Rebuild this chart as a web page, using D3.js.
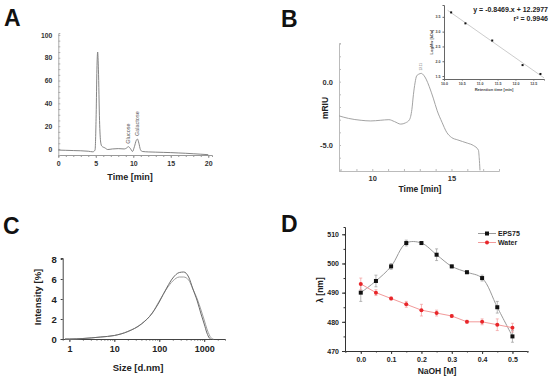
<!DOCTYPE html>
<html>
<head>
<meta charset="utf-8">
<script src="https://cdn.jsdelivr.net/npm/d3@7"></script>
<style>
body{margin:0;background:#fff}
text{font-family:"Liberation Sans",Arial,sans-serif}
</style>
</head>
<body>
<div id="chart"></div>
<script>
// PANEL A - HPLC trace
var hplcTime = [0,1,2,3,4,4.6,4.9,5.05,5.15,5.25,5.35,5.5,5.65,5.8,6.2,6.6,7.2,8,8.8,9.1,9.35,9.6,9.9,10.15,10.4,10.55,10.75,10.95,11.2,12,13,14,15,16,17,18,19,20]
var hplcSignal = [-1,-1.2,-1.4,-1.6,-2,-2.5,-1,30,70,85,70,25,6,2.5,1,-0.5,0,0.3,0,0.8,2,0.5,-2.2,2,7.5,8.7,5,-0.5,-2.2,-2.6,-2.8,-3,-3.2,-3.5,-3.8,-4.2,-4.6,-5]
var hplcTicksX = [0,5,10,15,20]
var hplcTicksY = [0,20,40,60,80,100]
var peakNames = ["Glucose","Galactose"]
var peakTimes = [9.35,10.55]
var peakHeights = [2,8.7]

// PANEL B - GPC trace + calibration inset
var gpcTime = [7.9,8.5,9.3,9.9,10.5,11.05,11.4,11.8,12.1,12.35,12.5,12.6,12.7,12.8,12.95,13.1,13.25,13.4,13.6,13.85,14.1,14.4,14.7,15.0,15.4,16.0,16.4,16.7,16.75,16.8]
var gpcSignal = [-2.7,-2.9,-3.05,-3.1,-3.05,-3.0,-3.15,-3.35,-3.25,-3.0,-2.2,-1.0,-0.1,0.45,0.6,0.65,0.5,0.2,-0.4,-1.3,-2.3,-3.2,-4.0,-4.4,-4.6,-4.85,-5.05,-5.4,-6.0,-7.0]
var gpcTicksX = [10,15]
var gpcTicksY = [0,-5]
var calibTime = [10.2,10.6,11.35,12.2,12.7]
var calibLogMw = [3.65,3.28,2.7,1.87,1.57]
var calibTicksX = [10.0,10.5,11.0,11.5,12.0,12.5]
var calibTicksY = [1.5,2.0,2.5,3.0,3.5]

// PANEL C - DLS size distribution
var dlsSize = [0.8,1,2,5,10,20,40,70,100,150,200,280,350,450,560,700,850,1000,1150,1300,1400,1600]
var dlsRun1 = [0,0,0.05,0.2,0.35,0.75,1.5,2.6,3.7,5.2,6.1,6.65,6.7,6.2,5.0,3.8,2.5,1.5,0.6,0.1,0,null]
var dlsRun2 = [0,0,0.05,0.2,0.35,0.75,1.5,2.6,3.8,5.1,5.8,6.2,6.2,5.9,5.0,4.0,2.9,1.9,1.0,0.4,0.15,0]
var dlsTicksX = [1,10,100,1000]
var dlsTicksY = [0,2,4,6,8]

// PANEL D - lambda max vs NaOH
var naoh = [0,0.05,0.1,0.15,0.2,0.25,0.3,0.35,0.4,0.45,0.5]
var eps75 = [490,494,499,507,507,503,499,497,495,485,475]
var eps75Err = [3,2,1,1,0.5,2,0.5,0.5,1,2,2]
var water = [493,490,488,486,484,483,482,480,480,479,478]
var waterErr = [2,1,0.5,1,2,1,0.5,0.5,1,2,1.5]
var naohTicks = [0,0.1,0.2,0.3,0.4,0.5]
var lambdaTicks = [470,480,490,500,510]

var svg = d3.select("#chart").append("svg")
  .attr("width", 550)
  .attr("height", 379)

svg.append("rect").attr("width", 550).attr("height", 379).attr("fill", "white")

function letter(t, x, y) {
  svg.append("text")
    .attr("x", x).attr("y", y)
    .style("font-size", "23px")
    .style("font-weight", "bold")
    .style("fill", "#111")
    .text(t)
}

// styles an axis group: line colour, tick colour, labels
function styleAxis(g, col, fs, fcol) {
  g.select(".domain").attr("stroke", col)
  g.selectAll(".tick line").attr("stroke", col)
  g.selectAll(".tick text")
    .style("font-size", fs)
    .style("font-weight", "bold")
    .style("fill", fcol)
    .attr("font-family", null)
}

// ---------------- A ----------------
letter("A", 4, 26)
var xA = d3.scaleLinear().domain([0, 20.5]).range([58.3, 212])
var yA = d3.scaleLinear().domain([-5.3, 101.7]).range([155, 33])

var gA = svg.append("g")
var axA = gA.append("g").attr("transform", "translate(0,155)")
  .call(d3.axisBottom(xA).tickValues(d3.range(0, 21, 1)).tickSize(2).tickFormat(""))
styleAxis(axA, "#999", "7px", "#333")
var axA2 = gA.append("g").attr("transform", "translate(0,155)")
  .call(d3.axisBottom(xA).tickValues(hplcTicksX).tickSize(3).tickPadding(3))
axA2.select(".domain").remove()
styleAxis(axA2, "#999", "7px", "#333")

var ayA = gA.append("g").attr("transform", "translate(58.3,0)")
  .call(d3.axisLeft(yA).tickValues(d3.range(0, 101, 5)).tickSize(-2).tickFormat(""))
styleAxis(ayA, "#aaa", "7px", "#333")
var ayA2 = gA.append("g").attr("transform", "translate(58.3,0)")
  .call(d3.axisLeft(yA).tickValues(hplcTicksY).tickSize(0).tickPadding(6))
ayA2.select(".domain").remove()
styleAxis(ayA2, "#aaa", "6.8px", "#333")

gA.append("path")
  .datum(hplcTime.map((t, i) => [t, hplcSignal[i]]))
  .attr("fill", "none").attr("stroke", "#777").attr("stroke-width", 0.9)
  .attr("d", d3.line().x(d => xA(d[0])).y(d => yA(d[1])).curve(d3.curveMonotoneX))

peakNames.forEach(function (n, i) {
  var px = xA(peakTimes[i]) + 1.5, py = yA(peakHeights[i]) - 3
  gA.append("text")
    .attr("transform", "translate(" + px + "," + py + ") rotate(-90)")
    .style("font-size", "5.5px").style("fill", "#555")
    .text(n)
})

gA.append("text").attr("x", 130).attr("y", 180).attr("text-anchor", "middle")
  .style("font-size", "9px").style("font-weight", "bold").style("fill", "#222")
  .text("Time [min]")

// ---------------- B ----------------
letter("B", 281, 27)
var xB = d3.scaleLinear().domain([7.9, 18]).range([339, 499])
var yB = d3.scaleLinear().domain([-7.05, 3.05]).range([171, 43])

var gB = svg.append("g")
var axB = gB.append("g").attr("transform", "translate(0,171)")
  .call(d3.axisBottom(xB).tickValues(d3.range(8, 18.1, 1)).tickSize(-2).tickFormat(""))
styleAxis(axB, "#bbb", "7px", "#333")
var axB2 = gB.append("g").attr("transform", "translate(0,171)")
  .call(d3.axisBottom(xB).tickValues(gpcTicksX).tickSize(0).tickPadding(5))
axB2.select(".domain").remove()
styleAxis(axB2, "#bbb", "7.5px", "#333")

var ayB = gB.append("g").attr("transform", "translate(339,0)")
  .call(d3.axisLeft(yB).tickValues(d3.range(-7, 3.1, 1)).tickSize(-2).tickFormat(""))
styleAxis(ayB, "#bbb", "7px", "#333")
var ayB2 = gB.append("g").attr("transform", "translate(339,0)")
  .call(d3.axisLeft(yB).tickValues(gpcTicksY).tickSize(0).tickPadding(6).tickFormat(d3.format(".1f")))
ayB2.select(".domain").remove()
styleAxis(ayB2, "#bbb", "7.5px", "#333")
ayB2.selectAll(".tick text").text(d => d == 0 ? "0.0" : "-5.0")

gB.append("path")
  .datum(gpcTime.map((t, i) => [t, gpcSignal[i]]))
  .attr("fill", "none").attr("stroke", "#999").attr("stroke-width", 0.9)
  .attr("d", d3.line().x(d => xB(d[0])).y(d => yB(d[1])).curve(d3.curveMonotoneX))

gB.append("text")
  .attr("transform", "translate(" + (xB(13.1) + 1) + "," + (yB(0.65) - 3) + ") rotate(-90)")
  .style("font-size", "3px").style("fill", "#666").text("13.11")

gB.append("text").attr("transform", "translate(328,108) rotate(-90)")
  .attr("text-anchor", "middle")
  .style("font-size", "8.5px").style("font-weight", "bold").style("fill", "#222")
  .text("mRIU")
gB.append("text").attr("x", 420).attr("y", 192).attr("text-anchor", "middle")
  .style("font-size", "8.5px").style("font-weight", "bold").style("fill", "#222")
  .text("Time [min]")

// inset
var xI = d3.scaleLinear().domain([10, 12.8]).range([444, 544])
var yI = d3.scaleLinear().domain([1.4, 3.9]).range([79, 5])
var gI = svg.append("g")
var axI = gI.append("g").attr("transform", "translate(0,79)")
  .call(d3.axisBottom(xI).tickValues(calibTicksX).tickSize(1.5).tickPadding(2).tickFormat(d3.format(".1f")))
styleAxis(axI, "#666", "3.6px", "#444")
var ayI = gI.append("g").attr("transform", "translate(444,0)")
  .call(d3.axisLeft(yI).tickValues(calibTicksY).tickSize(1.5).tickPadding(2).tickFormat(d3.format(".1f")))
styleAxis(ayI, "#666", "3.6px", "#444")

// least squares line through the read points
var fit = (function () {
  var mx = d3.mean(calibTime), my = d3.mean(calibLogMw)
  var sxy = d3.sum(calibTime, (x, i) => (x - mx) * (calibLogMw[i] - my))
  var sxx = d3.sum(calibTime, x => (x - mx) * (x - mx))
  var b = sxy / sxx
  return {b: b, a: my - b * mx}
})()
gI.append("line")
  .attr("x1", xI(10.1)).attr("y1", yI(fit.a + fit.b * 10.1))
  .attr("x2", xI(12.8)).attr("y2", yI(fit.a + fit.b * 12.8))
  .attr("stroke", "#aaa").attr("stroke-width", 0.6)
gI.selectAll(".pt").data(calibTime).enter().append("rect")
  .attr("x", (d, i) => xI(d) - 1).attr("y", (d, i) => yI(calibLogMw[i]) - 1)
  .attr("width", 2).attr("height", 2).attr("fill", "#111")

gI.append("text").attr("x", 494).attr("y", 91).attr("text-anchor", "middle")
  .style("font-size", "4px").style("font-weight", "bold").style("fill", "#444")
  .text("Retention time [min]")
gI.append("text").attr("transform", "translate(433,42) rotate(-90)")
  .attr("text-anchor", "middle")
  .style("font-size", "4px").style("font-weight", "bold").style("fill", "#444")
  .text("LogMw [kDa]")
gI.append("text").attr("x", 548).attr("y", 12).attr("text-anchor", "end")
  .style("font-size", "7px").style("font-weight", "bold").style("fill", "#222")
  .text("y = -0.8469.x + 12.2977")
gI.append("text").attr("x", 548).attr("y", 21).attr("text-anchor", "end")
  .style("font-size", "7px").style("font-weight", "bold").style("fill", "#222")
  .text("r² = 0.9946")

// ---------------- C ----------------
letter("C", 3, 234)
var xC = d3.scaleLog().domain([0.71, 2900]).range([62.7, 225])
var yC = d3.scaleLinear().domain([0, 8.1]).range([339, 258])
var gC = svg.append("g")

var minorC = []
;[1, 10, 100, 1000].forEach(function (p) { for (var k = 1; k < 10; k++) if (p * k < 2900) minorC.push(p * k) })
var axC = gC.append("g").attr("transform", "translate(0,339)")
  .call(d3.axisBottom(xC).tickValues(minorC).tickSize(1.5).tickFormat(""))
styleAxis(axC, "#444", "9px", "#222")
var axC2 = gC.append("g").attr("transform", "translate(0,339)")
  .call(d3.axisBottom(xC).tickValues(dlsTicksX).tickSize(3).tickPadding(4).tickFormat(d3.format("d")))
axC2.select(".domain").remove()
styleAxis(axC2, "#444", "9px", "#222")

var ayC = gC.append("g").attr("transform", "translate(62.7,0)")
  .call(d3.axisLeft(yC).tickValues(dlsTicksY).tickSize(2).tickPadding(4))
styleAxis(ayC, "#444", "9.5px", "#222")

var lineC = d3.line()
  .defined(d => d[1] != null)
  .x(d => xC(d[0])).y(d => yC(d[1]))
  .curve(d3.curveMonotoneX)
gC.append("path")
  .datum(dlsSize.map((s, i) => [s, dlsRun2[i]]))
  .attr("fill", "none").attr("stroke", "#a0a0a0").attr("stroke-width", 1)
  .attr("d", lineC)
gC.append("path")
  .datum(dlsSize.map((s, i) => [s, dlsRun1[i]]))
  .attr("fill", "none").attr("stroke", "#6a6a6a").attr("stroke-width", 1)
  .attr("d", lineC)

gC.append("text").attr("x", 138).attr("y", 371).attr("text-anchor", "middle")
  .style("font-size", "9.5px").style("font-weight", "bold").style("fill", "#222")
  .text("Size [d.nm]")
gC.append("text").attr("transform", "translate(41,297) rotate(-90)")
  .attr("text-anchor", "middle")
  .style("font-size", "9.5px").style("font-weight", "bold").style("fill", "#222")
  .text("Intensity [%]")

// ---------------- D ----------------
letter("D", 281, 232)
var xD = d3.scaleLinear().domain([-0.052, 0.548]).range([345, 527])
var yD = d3.scaleLinear().domain([470, 512.5]).range([351, 227])
var gD = svg.append("g")

var axD = gD.append("g").attr("transform", "translate(0,351)")
  .call(d3.axisBottom(xD).tickValues(d3.range(-0.05, 0.551, 0.05)).tickSize(1.5).tickFormat(""))
styleAxis(axD, "#333", "7px", "#222")
var axD2 = gD.append("g").attr("transform", "translate(0,351)")
  .call(d3.axisBottom(xD).tickValues(naohTicks).tickSize(3).tickPadding(3).tickFormat(d3.format(".1f")))
axD2.select(".domain").remove()
styleAxis(axD2, "#333", "7px", "#222")

var ayD = gD.append("g").attr("transform", "translate(345,0)")
  .call(d3.axisLeft(yD).tickValues(d3.range(470, 512, 5)).tickSize(1.5).tickFormat(""))
styleAxis(ayD, "#333", "7px", "#222")
var ayD2 = gD.append("g").attr("transform", "translate(345,0)")
  .call(d3.axisLeft(yD).tickValues(lambdaTicks).tickSize(3).tickPadding(3))
ayD2.select(".domain").remove()
styleAxis(ayD2, "#333", "7px", "#222")

function series(vals, errs, lineCol, markCol, curve, square) {
  var pts = naoh.map((x, i) => [x, vals[i], errs[i]])
  gD.append("path").datum(pts)
    .attr("fill", "none").attr("stroke", lineCol).attr("stroke-width", 1)
    .attr("d", d3.line().x(d => xD(d[0])).y(d => yD(d[1])).curve(curve))
  var eb = gD.append("g")
  pts.forEach(function (d) {
    var x = xD(d[0])
    eb.append("line").attr("x1", x).attr("x2", x)
      .attr("y1", yD(d[1] - d[2])).attr("y2", yD(d[1] + d[2]))
      .attr("stroke", lineCol).attr("stroke-width", 0.7)
    ;[d[1] - d[2], d[1] + d[2]].forEach(function (v) {
      eb.append("line").attr("x1", x - 1.5).attr("x2", x + 1.5)
        .attr("y1", yD(v)).attr("y2", yD(v))
        .attr("stroke", lineCol).attr("stroke-width", 0.7)
    })
  })
  if (square) {
    gD.selectAll(null).data(pts).enter().append("rect")
      .attr("x", d => xD(d[0]) - 2).attr("y", d => yD(d[1]) - 2)
      .attr("width", 4).attr("height", 4).attr("fill", markCol)
  } else {
    gD.selectAll(null).data(pts).enter().append("circle")
      .attr("cx", d => xD(d[0])).attr("cy", d => yD(d[1])).attr("r", 2)
      .attr("fill", markCol)
  }
}
series(eps75, eps75Err, "#999", "#111", d3.curveCatmullRom, true)
series(water, waterErr, "#f29a9a", "#e8262a", d3.curveLinear, false)

var legendD = [{label: "EPS75", line: "#999", mark: "#111", sq: true},
  {label: "Water", line: "#f29a9a", mark: "#e8262a", sq: false}]
var lg = gD.selectAll(".legend").data(legendD).enter().append("g")
  .attr("transform", (d, i) => "translate(478," + (233.5 + i * 9) + ")")
lg.append("line").attr("x1", 0).attr("x2", 18).attr("stroke", d => d.line).attr("stroke-width", 1)
lg.filter(d => d.sq).append("rect").attr("x", 7).attr("y", -2).attr("width", 4).attr("height", 4).attr("fill", d => d.mark)
lg.filter(d => !d.sq).append("circle").attr("cx", 9).attr("cy", 0).attr("r", 2).attr("fill", d => d.mark)
lg.append("text").attr("x", 20).attr("y", 2.5)
  .style("font-size", "7px").style("font-weight", "bold").style("fill", "#222")
  .text(d => d.label)

gD.append("text").attr("x", 437).attr("y", 374).attr("text-anchor", "middle")
  .style("font-size", "8.5px").style("font-weight", "bold").style("fill", "#222")
  .text("NaOH [M]")
gD.append("text").attr("transform", "translate(323,290) rotate(-90)")
  .attr("text-anchor", "middle")
  .style("font-size", "8.5px").style("font-weight", "bold").style("fill", "#222")
  .text("λ [nm]")
</script>
</body>
</html>
